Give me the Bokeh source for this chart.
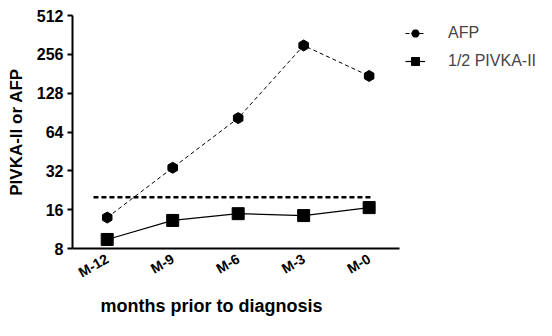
import math
from bokeh.plotting import figure
from bokeh.models import (FixedTicker, Legend, LegendItem, ColumnDataSource,
                          CustomJSTickFormatter, Range1d, Title, LinearAxis)
from bokeh.embed import file_html
from bokeh.resources import INLINE

months = ["M-12", "M-9", "M-6", "M-3", "M-0"]
afp = [13.9, 33.8, 82, 300, 174]
pivka_half = [9.4, 13.2, 14.9, 14.4, 16.6]
threshold = 20
threshold_x = [-0.21, 4.05]
y_ticks = [8, 16, 32, 64, 128, 256, 512]

FONT = "Liberation Sans"
idx = list(range(len(months)))

p = figure(width=552, height=336, output_backend="svg", toolbar_location=None,
           x_range=Range1d(-0.53, 6.8), y_axis_type="log", y_range=(8, 512),
           min_border_left=72, min_border_top=15, min_border_right=0,
           min_border_bottom=88)
p.outline_line_color = None
p.xgrid.grid_line_color = None
p.ygrid.grid_line_color = None

# threshold line
p.line(x=threshold_x, y=[threshold, threshold], line_color="black",
       line_width=2.5, line_dash="5 3")

src = ColumnDataSource(dict(x=idx, afp=afp, piv=pivka_half))
l1 = p.line("x", "afp", source=src, line_color="black", line_width=1, line_dash="4 3")
m1 = p.scatter("x", "afp", source=src, marker="hex", size=11, fill_color="black",
               line_color="black", angle=math.pi / 2)
l2 = p.line("x", "piv", source=src, line_color="black", line_width=1.2)
m2 = p.scatter("x", "piv", source=src, marker="square", size=12, fill_color="black",
               line_color="black")

yax = p.yaxis[0]
yax.ticker = FixedTicker(ticks=y_ticks)
yax.formatter = CustomJSTickFormatter(code="return tick.toFixed(0);")
yax.minor_tick_line_color = None
yax.major_tick_out = 5
yax.major_tick_in = 0
yax.axis_line_width = 2
yax.major_tick_line_width = 2
yax.major_label_standoff = 4
yax.major_label_text_font = FONT
yax.major_label_text_font_style = "bold"
yax.major_label_text_font_size = "16px"
yax.major_label_text_color = "black"
yax.axis_label = "PIVKA-II or AFP"
yax.axis_label_text_font = FONT
yax.axis_label_text_font_style = "bold"
yax.axis_label_text_font_size = "17px"
yax.axis_label_text_color = "black"
yax.axis_label_standoff = 8

xax = p.xaxis[0]
xax.ticker = FixedTicker(ticks=idx)
xax.major_label_overrides = {i: m for i, m in zip(idx, months)}
xax.bounds = (-0.53, len(months) - 0.53)
xax.major_tick_line_color = None
xax.minor_tick_line_color = None
xax.axis_line_width = 2
xax.major_label_orientation = math.pi / 6
xax.major_label_text_font = FONT
xax.major_label_text_font_style = "bold"
xax.major_label_text_font_size = "14px"
xax.major_label_text_color = "black"
xax.major_label_standoff = 3

# empty spacer axis (no ticks drawn, no labels, no line) to push the x title down
spacer = LinearAxis(ticker=FixedTicker(ticks=[]), axis_line_color=None,
                    major_tick_line_color="white", minor_tick_line_color=None,
                    major_tick_out=16, major_tick_in=0, minor_tick_out=0,
                    major_label_standoff=0)
p.add_layout(spacer, "below")

xt = Title(text="months prior to diagnosis", align="left", offset=28, standoff=7,
           text_font=FONT, text_font_style="bold", text_font_size="18px",
           text_color="black")
p.add_layout(xt, "below")

legend = Legend(items=[LegendItem(label="AFP", renderers=[l1, m1]),
                       LegendItem(label="1/2 PIVKA-II", renderers=[l2, m2])],
                location=(333, 177), border_line_color=None, background_fill_alpha=0,
                label_text_font=FONT, label_text_font_size="16px",
                glyph_width=20, glyph_height=20, label_height=20,
                label_standoff=23, spacing=8, padding=0, margin=0)
p.add_layout(legend)

open("out.html", "w").write(file_html(p, INLINE))
